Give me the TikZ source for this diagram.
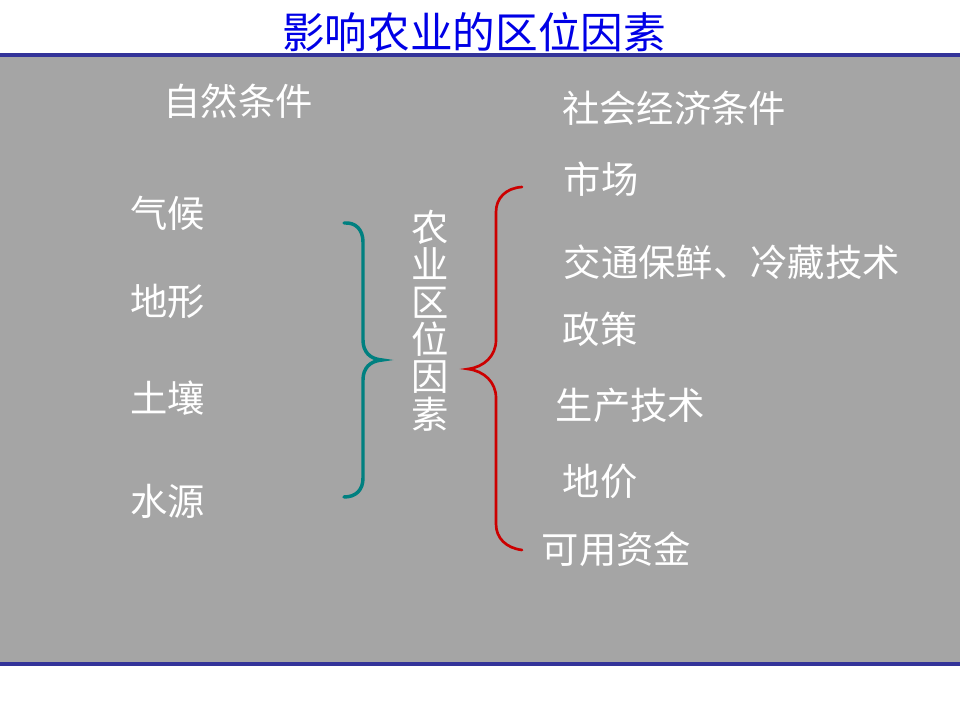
\documentclass[tikz,border=0pt]{standalone}
\usepackage{fontspec}
\setmainfont{Noto Sans CJK SC}
\definecolor{bggray}{RGB}{165,165,165}
\definecolor{lineblue}{RGB}{51,51,153}
\definecolor{titleblue}{RGB}{0,0,230}
\definecolor{braceteal}{RGB}{0,128,128}
\definecolor{bracered}{RGB}{204,0,0}
\begin{document}
\begin{tikzpicture}[x=0.75pt,y=-0.75pt,
  txt/.style={text=white,font=\fontsize{28}{33}\selectfont,inner sep=0pt},
  titletxt/.style={text=titleblue,font=\fontsize{32}{36}\selectfont,inner sep=0pt},
  vtxt/.style={text=white,font=\fontsize{28}{28}\selectfont,inner sep=0pt,align=center}]
\useasboundingbox (0,0) rectangle (960,720);
\fill[white] (0,0) rectangle (960,720);
\fill[bggray] (0,57) rectangle (960,662);
\fill[lineblue] (0,53) rectangle (960,57.5);
\fill[lineblue] (0,662) rectangle (960,666);

\node[titletxt] (title) at (474,32) {影响农业的区位因素};

\node[txt] (nat) at (238,101) {自然条件};
\node[txt] (soc) at (674,108) {社会经济条件};

\node[txt] (qh) at (167.5,213) {气候};
\node[txt] (dx) at (167.5,301) {地形};
\node[txt] (tr) at (167.5,398) {土壤};
\node[txt] (sy) at (167.5,501) {水源};

\node[vtxt] (core) at (430,320.5) {农\\业\\区\\位\\因\\素};

\node[txt,anchor=west] (sc) at (563.5,179) {市场};
\node[txt,anchor=west] (jt) at (563.5,262) {交通保鲜、冷藏技术};
\node[txt,anchor=west] (zc) at (562.5,329) {政策};
\node[txt,anchor=west] (sc2) at (555.5,405) {生产技术};
\node[txt,anchor=west] (dj) at (562.5,481) {地价};
\node[txt,anchor=west] (zj) at (541.5,549) {可用资金};

% teal brace
\draw[braceteal,line width=2.6pt,line cap=round]
  (344,223) .. controls (356,222) and (363,230) .. (363,242)
  -- (363,340) .. controls (363,352) and (370,359) .. (382,360)
  .. controls (370,361) and (363,368) .. (363,380)
  -- (363,478) .. controls (363,490) and (356,497) .. (344,497);
% red brace
\draw[bracered,line width=2pt,line cap=round]
  (522,187) .. controls (506,188) and (496,198) .. (496,212)
  -- (496,340) .. controls (496,356) and (484,367) .. (468,369)
  .. controls (484,371) and (496,382) .. (496,398)
  -- (496,524) .. controls (496,538) and (506,548) .. (522,550);
\end{tikzpicture}
\end{document}
